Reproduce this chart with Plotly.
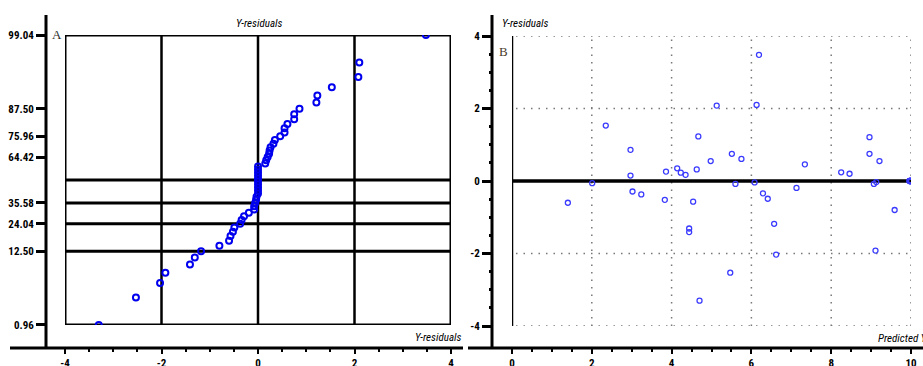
import plotly.graph_objects as go
from statistics import NormalDist

W, H = 923, 366

# ---------------- data ----------------
# Panel B: predicted Y vs Y-residuals
pred = [5.13, 2.35, 4.67, 2.97, 4.98, 4.14, 4.63, 3.86, 4.23, 4.35,
        2.97, 2.01, 3.02, 3.24, 3.83, 1.40, 4.54, 4.44, 4.44, 4.70,
        6.19, 6.13, 8.96, 5.51, 8.96, 5.75, 9.21, 7.34, 8.25, 8.46,
        5.60, 6.08, 9.07, 9.13, 7.13, 6.29, 6.41, 6.57, 9.59, 6.62,
        9.11, 5.47,
        9.96, 9.97, 9.97, 9.98, 9.98, 9.98, 9.99, 9.99, 10.0, 10.0]
resid = [2.08, 1.53, 1.23, 0.86, 0.55, 0.35, 0.32, 0.26, 0.23, 0.17,
         0.15, -0.06, -0.29, -0.37, -0.52, -0.60, -0.57, -1.31, -1.41, -3.30,
         3.48, 2.10, 1.21, 0.75, 0.75, 0.61, 0.55, 0.46, 0.24, 0.20,
         -0.08, -0.04, -0.08, -0.03, -0.19, -0.34, -0.49, -1.18, -0.80, -2.03,
         -1.92, -2.53,
         0.0, 0.0, 0.0, 0.0, 0.0, 0.0, 0.0, 0.0, 0.0, 0.0]

# Panel A: normal probability plot of the residuals
pct_tick_labels = ["0.96", "12.50", "24.04", "35.58", "64.42", "75.96", "87.50", "99.04"]
pct_tick_values = [0.96, 12.50, 24.04, 35.58, 64.42, 75.96, 87.50, 99.04]
pct_hlines = [50.0, 35.58, 24.04, 12.50]
a_x_ticks = [-4, -2, 0, 2, 4]
a_x_ticktext = ["-4", "-2", "0", "2", "4"]
a_x_minor = [-3.5, -3, -2.5, -1.5, -1, -0.5, 0.5, 1, 1.5, 2.5, 3, 3.5]
a_vlines = [-2, 0, 2]

b_x_ticks = [0, 2, 4, 6, 8, 10]
b_x_minor = [0.5, 1, 1.5, 2.5, 3, 3.5, 4.5, 5, 5.5, 6.5, 7, 7.5, 8.5, 9, 9.5]
b_y_ticks = [-4, -2, 0, 2, 4]
b_y_ticktext = ["-4", "-2", "0", "2", "4"]
b_y_minor = [-3.5, -3, -2.5, -1.5, -1, -0.5, 0.5, 1, 1.5, 2.5, 3, 3.5]
b_grid_y = [4, 2, -2, -4]
b_grid_x = [2, 4, 6, 8, 10]

# ---------------- probability scale ----------------
nd = NormalDist()
n = len(resid)
sorted_resid = sorted(resid)
a_prob = [(i + 0.5) / n for i in range(n)]
a_z = [nd.inv_cdf(p) for p in a_prob]
zlo, zhi = nd.inv_cdf(0.5 / n), nd.inv_cdf((n - 0.5) / n)
tick_z = [nd.inv_cdf(min(max(v / 100.0, 0.5 / n), (n - 0.5) / n)) for v in pct_tick_values]
tick_z[0], tick_z[-1] = zlo, zhi

FONT = "Liberation Sans Narrow, Roboto Condensed, DejaVu Sans Condensed, Arial Narrow, sans-serif"
tickfont = dict(family=FONT, size=11, color="black", weight="bold")

fig = go.Figure()
fig.add_trace(go.Scatter(
    x=sorted_resid, y=a_z, mode="markers", xaxis="x", yaxis="y",
    marker=dict(symbol="circle-open", size=6, color="#0000ee", line=dict(width=2, color="#0000ee")),
    hoverinfo="skip"))
fig.add_trace(go.Scatter(
    x=pred, y=resid, mode="markers", xaxis="x2", yaxis="y2",
    marker=dict(symbol="circle-open", size=5, color="#3a3aff", line=dict(width=1.3, color="#3a3aff")),
    hoverinfo="skip"))

def py(p):  # pixel row -> paper y
    return 1 - p / H

def px(p):
    return p / W

axis_common = dict(showgrid=False, zeroline=False, showline=False, ticks="outside",
                   tickcolor="black", tickfont=tickfont, fixedrange=True, automargin=False)

fig.update_layout(
    width=W, height=H, autosize=False, margin=dict(l=0, r=0, t=0, b=0, pad=0, autoexpand=False),
    plot_bgcolor="white", paper_bgcolor="white", showlegend=False,
    xaxis=dict(domain=[px(65), px(451)], range=[-4, 4], anchor="free", position=py(348),
               tickmode="array", tickvals=a_x_ticks, ticktext=a_x_ticktext,
               ticklen=5, tickwidth=2,
               minor=dict(tickvals=a_x_minor, ticks="outside", ticklen=3, tickwidth=2, tickcolor="black"),
               **axis_common),
    yaxis=dict(domain=[py(325), py(35)], range=[zlo - 1e-4, zhi + 1e-4], anchor="free", position=px(46),
               tickmode="array", tickvals=tick_z, ticktext=pct_tick_labels,
               ticklen=10, tickwidth=3, **axis_common),
    xaxis2=dict(domain=[px(512), px(911)], range=[0, 10], anchor="free", position=py(348),
                tickmode="array", tickvals=b_x_ticks, ticktext=[str(v) for v in b_x_ticks],
                ticklen=5, tickwidth=2,
                minor=dict(tickvals=b_x_minor, ticks="outside", ticklen=3, tickwidth=2, tickcolor="black"),
                **axis_common),
    yaxis2=dict(domain=[py(326), py(36)], range=[-4, 4], anchor="free", position=px(492),
                tickmode="array", tickvals=b_y_ticks, ticktext=b_y_ticktext,
                ticklen=10, tickwidth=3,
                minor=dict(tickvals=b_y_minor, ticks="outside", ticklen=3, tickwidth=3, tickcolor="black"),
                **axis_common),
)

shapes = []
# Panel A frame and grid
shapes.append(dict(type="rect", xref="x", yref="y", x0=-4, x1=4, y0=zlo, y1=zhi,
                   line=dict(color="black", width=3), layer="below"))
for xv in a_vlines:
    shapes.append(dict(type="line", xref="x", yref="y", x0=xv, x1=xv, y0=zlo, y1=zhi,
                       line=dict(color="black", width=2.5), layer="below"))
for pv in pct_hlines:
    zv = nd.inv_cdf(pv / 100.0)
    shapes.append(dict(type="line", xref="x", yref="y", x0=-4, x1=4, y0=zv, y1=zv,
                       line=dict(color="black", width=3), layer="below"))
# Panel B grid
for yv in b_grid_y:
    shapes.append(dict(type="line", xref="x2", yref="y2", x0=0.1, x1=10, y0=yv, y1=yv,
                       line=dict(color="#777777", width=1.5, dash="1.5px,6px"), layer="below"))
for xv in b_grid_x:
    shapes.append(dict(type="line", xref="x2", yref="y2", x0=xv, x1=xv, y0=-4, y1=4,
                       line=dict(color="#777777", width=1.5, dash="1.5px,6px"), layer="below"))
shapes.append(dict(type="line", xref="x2", yref="y2", x0=0, x1=0, y0=-4, y1=4,
                   line=dict(color="black", width=2.5), layer="below"))
shapes.append(dict(type="line", xref="x2", yref="y2", x0=0, x1=10, y0=0, y1=0,
                   line=dict(color="black", width=3.5), layer="below"))
# outer axis lines (paper)
shapes.append(dict(type="line", xref="paper", yref="paper", x0=px(46), x1=px(46), y0=py(15), y1=py(349),
                   line=dict(color="black", width=3)))
shapes.append(dict(type="line", xref="paper", yref="paper", x0=px(10), x1=px(463), y0=py(348), y1=py(348),
                   line=dict(color="black", width=3)))
shapes.append(dict(type="line", xref="paper", yref="paper", x0=px(492), x1=px(492), y0=py(15), y1=py(349),
                   line=dict(color="black", width=3)))
shapes.append(dict(type="line", xref="paper", yref="paper", x0=px(468), x1=px(923), y0=py(348), y1=py(348),
                   line=dict(color="black", width=3)))
fig.update_layout(shapes=shapes)

title_font = dict(family=FONT, size=11, color="black")
ann = [
    dict(text="<i>Y-residuals</i>", x=px(259), y=py(24), xanchor="center", yanchor="middle", font=title_font),
    dict(text="<i>Y-residuals</i>", x=px(463), y=py(337), xanchor="right", yanchor="middle", font=title_font),
    dict(text="<i>Y-residuals</i>", x=px(500), y=py(24), xanchor="left", yanchor="middle", font=title_font),
    dict(text="<i>Predicted Y</i>", x=px(876), y=py(338), xanchor="left", yanchor="middle",
         font=dict(family=FONT, size=11, color="black")),
    dict(text="A", x=px(57), y=py(34), xanchor="center", yanchor="middle",
         font=dict(family="Liberation Serif, DejaVu Serif, serif", size=13, color="#2a2a2a")),
    dict(text="B", x=px(503), y=py(51), xanchor="center", yanchor="middle",
         font=dict(family="Liberation Serif, DejaVu Serif, serif", size=13, color="#4a3a2a")),
]
for a in ann:
    a.update(xref="paper", yref="paper", showarrow=False)
fig.update_layout(annotations=ann)

fig.write_html("out.html", config={"displayModeBar": False},
               post_script="document.body.style.margin='0';document.body.style.padding='0';"
                           "document.body.style.overflow='hidden';")
